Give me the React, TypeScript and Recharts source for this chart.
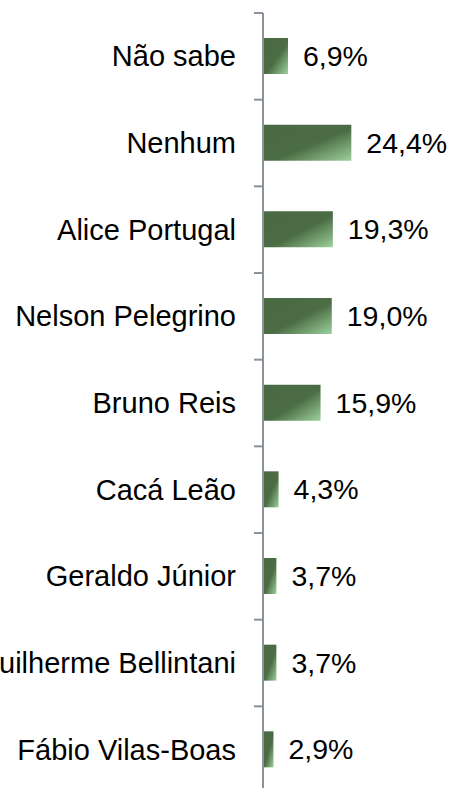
import React from "react";
import { BarChart, Bar, XAxis, YAxis, LabelList } from "recharts";

const candidates = [
  "Não sabe",
  "Nenhum",
  "Alice Portugal",
  "Nelson Pelegrino",
  "Bruno Reis",
  "Cacá Leão",
  "Geraldo Júnior",
  "Guilherme Bellintani",
  "Fábio Vilas-Boas",
];
const percents = [6.9, 24.4, 19.3, 19.0, 15.9, 4.3, 3.7, 3.7, 2.9];

const data = candidates.map((name, i) => ({ name, value: percents[i] }));

const W = 454;
const H = 800;
const TOP = 13;
const BOTTOM = 7;
const AXIS_W = 263;
const BAND = (H - TOP - BOTTOM) / candidates.length;
const FONT = "'Liberation Sans', Arial, sans-serif";
const AXIS_COLOR = "#8a929c";

const fmt = (v: number) => v.toFixed(1).replace(".", ",") + "%";

const CategoryTick = (props: any) => {
  const { x, y, payload } = props;
  const top = y - BAND / 2;
  return (
    <g>
      <line x1={AXIS_W - 9} x2={AXIS_W} y1={top} y2={top} stroke={AXIS_COLOR} strokeWidth={2} />
      <text x={x} y={y} dy={10} textAnchor="end" fontSize={29} fontFamily={FONT} fill="#000">
        {payload.value}
      </text>
    </g>
  );
};

export default function App() {
  return (
    <div
      style={{
        position: "absolute",
        left: 0,
        top: 0,
        width: W,
        height: 788,
        overflow: "hidden",
        background: "#fff",
      }}
    >
      <BarChart
        width={W}
        height={H}
        data={data}
        layout="vertical"
        margin={{ top: TOP, right: 10, bottom: BOTTOM, left: 0 }}
        barSize={36}
      >
        <defs>
          <linearGradient id="barFill" x1="0" y1="0" x2="1" y2="1">
            <stop offset="0%" stopColor="#4a6a43" />
            <stop offset="55%" stopColor="#4b6c44" />
            <stop offset="100%" stopColor="#9dd29d" />
          </linearGradient>
        </defs>
        <XAxis type="number" domain={[0, 50]} hide />
        <YAxis
          type="category"
          dataKey="name"
          width={AXIS_W}
          axisLine={{ stroke: AXIS_COLOR, strokeWidth: 2 }}
          tickLine={false}
          tickSize={9}
          tickMargin={18}
          tick={<CategoryTick />}
          interval={0}
        />
        <Bar dataKey="value" fill="url(#barFill)" isAnimationActive={false}>
          <LabelList
            dataKey="value"
            position="right"
            offset={15}
            formatter={(v: any) => fmt(Number(v))}
            style={{ fontSize: 28.5, fontFamily: FONT, fill: "#000" }}
          />
        </Bar>
      </BarChart>
    </div>
  );
}
